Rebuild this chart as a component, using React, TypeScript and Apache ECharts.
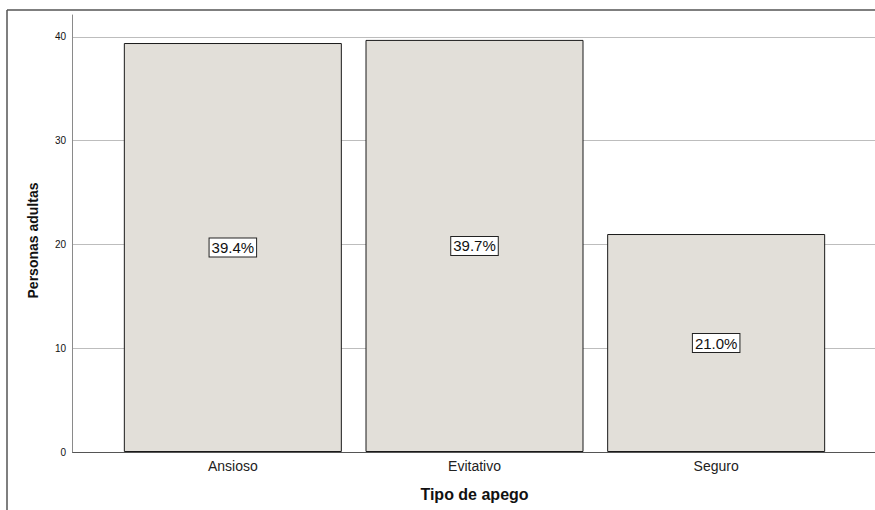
import React, { useEffect, useRef } from "react";
import * as echarts from "echarts";

const categories = ["Ansioso", "Evitativo", "Seguro"];
const values = [39.4, 39.7, 21.0];
const percentLabels = ["39.4%", "39.7%", "21.0%"];
const yTicks = [0, 10, 20, 30, 40];
const xTitle = "Tipo de apego";
const yTitle = "Personas adultas";

const Y_MAX = 42.1;
const FONT = "Arial, 'Liberation Sans', sans-serif";

export default function App() {
  const ref = useRef<HTMLDivElement>(null);
  useEffect(() => {
    if (!ref.current) return;
    const chart = echarts.init(ref.current, undefined, { renderer: "svg" });
    chart.setOption({
      animation: false,
      backgroundColor: "#ffffff",
      textStyle: { fontFamily: FONT },
      grid: [
        { left: 72, right: 0, top: 15, bottom: 58 },
        { left: 112, right: 38, top: 15, bottom: 58 },
      ],
      xAxis: [
        {
          gridIndex: 0,
          type: "value",
          min: 0,
          max: 1,
          show: false,
        },
        {
          gridIndex: 1,
          type: "category",
          data: categories,
          axisLine: { show: false },
          axisTick: { show: false },
          axisLabel: { color: "#222", fontSize: 14, margin: 7, fontFamily: FONT },
          name: xTitle,
          nameLocation: "middle",
          nameGap: 34,
          nameTextStyle: { color: "#111", fontSize: 16, fontWeight: "bold", fontFamily: FONT },
        },
      ],
      yAxis: [
        {
          gridIndex: 0,
          type: "value",
          min: 0,
          max: Y_MAX,
          interval: 10,
          axisLine: { show: true, lineStyle: { color: "#8a8a8a", width: 1 } },
          axisTick: { show: false },
          axisLabel: {
            color: "#111",
            fontSize: 10,
            margin: 6,
            fontFamily: FONT,
            showMaxLabel: false,
            formatter: (v: number) => (yTicks.includes(v) ? String(v) : ""),
          },
          splitLine: {
            show: true,
            showMinLine: false,
            showMaxLine: false,
            lineStyle: { color: "#bdbdbd", width: 1 },
          },
          name: yTitle,
          nameLocation: "middle",
          nameGap: 32,
          nameRotate: 90,
          nameTextStyle: {
            color: "#111",
            fontSize: 14,
            fontWeight: "bold",
            fontFamily: FONT,
            padding: [0, 14, 0, 0],
          },
        },
        {
          gridIndex: 1,
          type: "value",
          min: 0,
          max: Y_MAX,
          show: false,
        },
      ],
      series: [
        {
          type: "bar",
          xAxisIndex: 1,
          yAxisIndex: 1,
          data: values,
          barWidth: 218,
          itemStyle: { color: "#e2dfd9", borderColor: "#1a1a1a", borderWidth: 1 },
          label: {
            show: true,
            position: "inside",
            formatter: (p: any) => percentLabels[p.dataIndex],
            color: "#111",
            fontSize: 15,
            fontFamily: FONT,
            backgroundColor: "#ffffff",
            borderColor: "#222",
            borderWidth: 1,
            padding: [2, 2, 1, 2],
          },
        },
      ],
      graphic: [
        {
          type: "line",
          shape: { x1: 7, y1: 10, x2: 875, y2: 10 },
          style: { stroke: "#555", lineWidth: 1.5 },
        },
        {
          type: "line",
          shape: { x1: 7, y1: 10, x2: 7, y2: 510 },
          style: { stroke: "#555", lineWidth: 1.5 },
        },
        {
          type: "line",
          shape: { x1: 72, y1: 452.5, x2: 875, y2: 452.5 },
          style: { stroke: "#555", lineWidth: 1 },
        },
      ],
    });
    return () => chart.dispose();
  }, []);
  return <div ref={ref} style={{ width: 875, height: 510, position: "fixed", left: 0, top: 0 }} />;
}
